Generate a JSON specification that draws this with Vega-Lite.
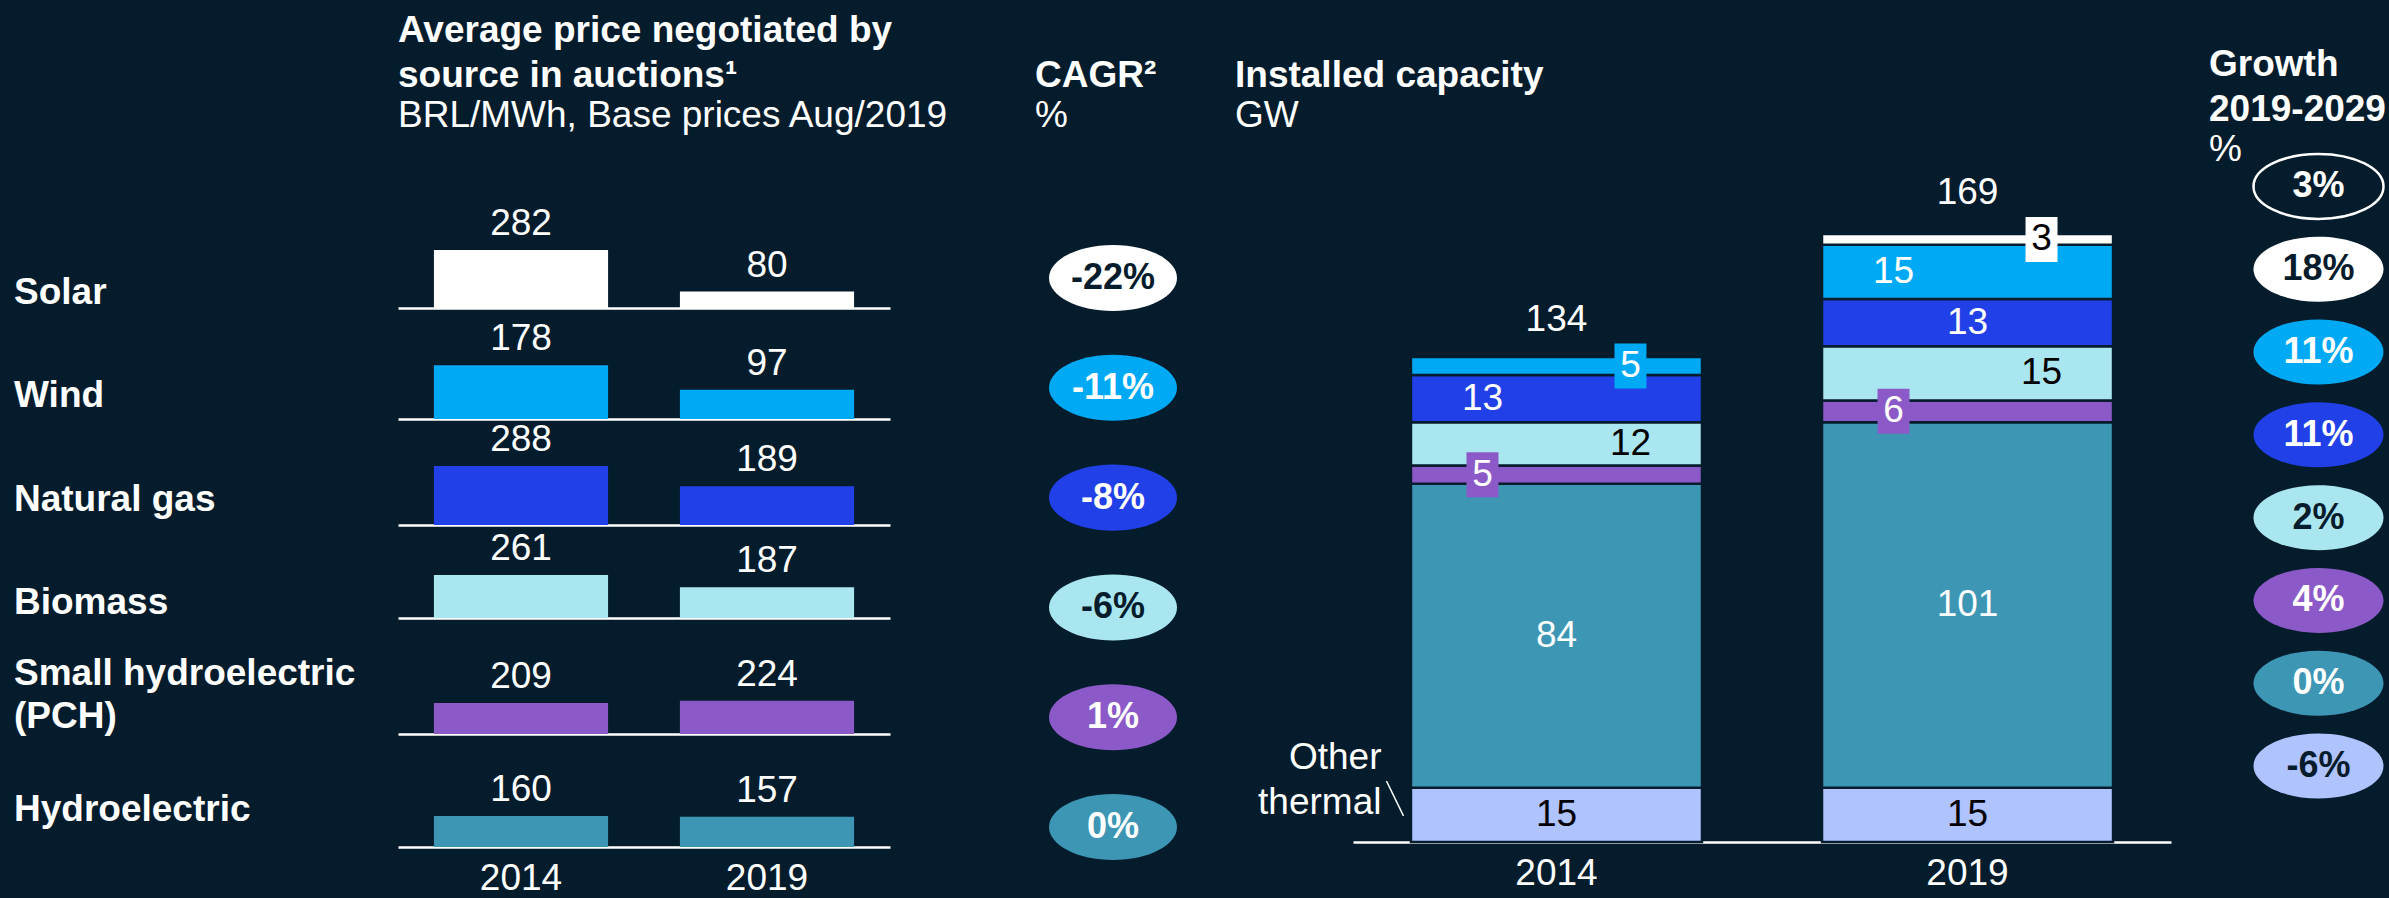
{
  "$schema": "https://vega.github.io/schema/vega-lite/v6.json",
  "background": "#051C2C",
  "padding": {"left": 14, "top": 12, "right": 0, "bottom": 2},
  "bounds": "full",
  "spacing": 0,
  "resolve": {"scale": {"x": "independent", "y": "independent"}},
  "config": {
    "font": "Liberation Sans",
    "view": {"stroke": null},
    "locale": {"number": {"decimal": ".", "thousands": ",", "grouping": [3], "currency": ["$", ""], "minus": "-"}},
    "title": {"color": "white", "font": "Liberation Sans", "fontSize": 37, "fontWeight": "bold", "anchor": "start", "frame": "group", "lineHeight": 45, "subtitleColor": "white", "subtitleFont": "Liberation Sans", "subtitleFontSize": 37, "subtitleFontWeight": "normal", "subtitleLineHeight": 45, "subtitlePadding": 0},
    "axis": {"grid": false, "labelFont": "Liberation Sans"}
  },
  "datasets": {
    "prices": [
      {"source": "Solar", "year": "2014", "price": 282}, {"source": "Solar", "year": "2019", "price": 80},
      {"source": "Wind", "year": "2014", "price": 178}, {"source": "Wind", "year": "2019", "price": 97},
      {"source": "Natural gas", "year": "2014", "price": 288}, {"source": "Natural gas", "year": "2019", "price": 189},
      {"source": "Biomass", "year": "2014", "price": 261}, {"source": "Biomass", "year": "2019", "price": 187},
      {"source": "Small hydroelectric\n(PCH)", "year": "2014", "price": 209}, {"source": "Small hydroelectric\n(PCH)", "year": "2019", "price": 224},
      {"source": "Hydroelectric", "year": "2014", "price": 160}, {"source": "Hydroelectric", "year": "2019", "price": 157}
    ],
    "cagr": [
      {"source": "Solar", "cagr": -0.22},
      {"source": "Wind", "cagr": -0.11},
      {"source": "Natural gas", "cagr": -0.08},
      {"source": "Biomass", "cagr": -0.06},
      {"source": "Small hydroelectric\n(PCH)", "cagr": 0.01},
      {"source": "Hydroelectric", "cagr": 0.0}
    ],
    "capacity": [
      {"year": "2014", "source": "Other thermal", "gw": 15},
      {"year": "2014", "source": "Hydroelectric", "gw": 84},
      {"year": "2014", "source": "Small hydroelectric\n(PCH)", "gw": 5},
      {"year": "2014", "source": "Biomass", "gw": 12},
      {"year": "2014", "source": "Natural gas", "gw": 13},
      {"year": "2014", "source": "Wind", "gw": 5},
      {"year": "2019", "source": "Other thermal", "gw": 15},
      {"year": "2019", "source": "Hydroelectric", "gw": 101},
      {"year": "2019", "source": "Small hydroelectric\n(PCH)", "gw": 6},
      {"year": "2019", "source": "Biomass", "gw": 15},
      {"year": "2019", "source": "Natural gas", "gw": 13},
      {"year": "2019", "source": "Wind", "gw": 15},
      {"year": "2019", "source": "Solar", "gw": 3}
    ],
    "totals": [
      {"year": "2014", "total": 134},
      {"year": "2019", "total": 169}
    ],
    "growth": [
      {"source": "Total", "growth": 0.03},
      {"source": "Solar", "growth": 0.18},
      {"source": "Wind", "growth": 0.11},
      {"source": "Natural gas", "growth": 0.11},
      {"source": "Biomass", "growth": 0.02},
      {"source": "Small hydroelectric\n(PCH)", "growth": 0.04},
      {"source": "Hydroelectric", "growth": 0.0},
      {"source": "Other thermal", "growth": -0.06}
    ]
  },
  "hconcat": [
    {
      "width": 384, "height": 676,
      "data": {"name": "cagr"},
      "encoding": {
        "x": {"datum": 0, "type": "quantitative", "scale": {"domain": [0, 1]}, "axis": null},
        "y": {"field": "source", "type": "nominal", "scale": {"type": "point", "domain": ["Solar", "Wind", "Natural gas", "Biomass", "Small hydroelectric\n(PCH)", "Hydroelectric"], "padding": 0.769, "align": 0.767}, "axis": null},
        "text": {"field": "source", "type": "nominal"}
      },
      "layer": [
        {
          "transform": [{"filter": "!test(/PCH/, datum.source)"}],
          "mark": {"type": "text", "align": "left", "baseline": "middle", "fontSize": 37, "fontWeight": "bold", "color": "white", "lineBreak": "\n", "lineHeight": 43}
        },
        {
          "transform": [{"filter": "test(/PCH/, datum.source)"}],
          "mark": {"type": "text", "align": "left", "baseline": "middle", "fontSize": 37, "fontWeight": "bold", "color": "white", "lineBreak": "\n", "lineHeight": 43, "dy": -33}
        }
      ]
    },
    {
      "title": {"text": ["Average price negotiated by", "source in auctions¹"], "subtitle": "BRL/MWh, Base prices Aug/2019", "offset": 36},
      "spacing": 0,
      "bounds": "flush",
      "resolve": {"scale": {"x": "independent", "y": "independent"}},
      "vconcat": [
        {
          "width": 492, "height": 137,
          "data": {"name": "prices"},
          "transform": [{"filter": "datum.source === 'Solar'"}],
          "encoding": {
            "x": {"field": "year", "type": "nominal", "scale": {"paddingInner": 0.292, "paddingOuter": 0.146}, "axis": {"labels": false, "ticks": false, "title": null, "domainColor": "white", "domainWidth": 2.5}},
            "y": {"field": "price", "type": "quantitative", "scale": {"domain": [0, 665]}, "axis": null}
          },
          "layer": [
            {"mark": {"type": "bar"}, "encoding": {"color": {"field": "source", "type": "nominal", "legend": null, "scale": {"domain": ["Solar", "Wind", "Natural gas", "Biomass", "Small hydroelectric\n(PCH)", "Hydroelectric", "Other thermal", "Total"], "range": ["#FFFFFF", "#00A9F4", "#2140E8", "#AAE6F0", "#8C5AC8", "#3C96B4", "#AFC3FF", "#051C2C"]}}}},
            {"mark": {"type": "text", "dy": -26, "fontSize": 37, "color": "white", "baseline": "middle"}, "encoding": {"text": {"field": "price", "type": "quantitative"}}}
          ]
        },
        {
          "width": 492, "height": 111,
          "data": {"name": "prices"},
          "transform": [{"filter": "datum.source === 'Wind'"}],
          "encoding": {
            "x": {"field": "year", "type": "nominal", "scale": {"paddingInner": 0.292, "paddingOuter": 0.146}, "axis": {"labels": false, "ticks": false, "title": null, "domainColor": "white", "domainWidth": 2.5}},
            "y": {"field": "price", "type": "quantitative", "scale": {"domain": [0, 368]}, "axis": null}
          },
          "layer": [
            {"mark": {"type": "bar"}, "encoding": {"color": {"field": "source", "type": "nominal", "legend": null, "scale": {"domain": ["Solar", "Wind", "Natural gas", "Biomass", "Small hydroelectric\n(PCH)", "Hydroelectric", "Other thermal", "Total"], "range": ["#FFFFFF", "#00A9F4", "#2140E8", "#AAE6F0", "#8C5AC8", "#3C96B4", "#AFC3FF", "#051C2C"]}}}},
            {"mark": {"type": "text", "dy": -26, "fontSize": 37, "color": "white", "baseline": "middle"}, "encoding": {"text": {"field": "price", "type": "quantitative"}}}
          ]
        },
        {
          "width": 492, "height": 106,
          "data": {"name": "prices"},
          "transform": [{"filter": "datum.source === 'Natural gas'"}],
          "encoding": {
            "x": {"field": "year", "type": "nominal", "scale": {"paddingInner": 0.292, "paddingOuter": 0.146}, "axis": {"labels": false, "ticks": false, "title": null, "domainColor": "white", "domainWidth": 2.5}},
            "y": {"field": "price", "type": "quantitative", "scale": {"domain": [0, 517]}, "axis": null}
          },
          "layer": [
            {"mark": {"type": "bar"}, "encoding": {"color": {"field": "source", "type": "nominal", "legend": null, "scale": {"domain": ["Solar", "Wind", "Natural gas", "Biomass", "Small hydroelectric\n(PCH)", "Hydroelectric", "Other thermal", "Total"], "range": ["#FFFFFF", "#00A9F4", "#2140E8", "#AAE6F0", "#8C5AC8", "#3C96B4", "#AFC3FF", "#051C2C"]}}}},
            {"mark": {"type": "text", "dy": -26, "fontSize": 37, "color": "white", "baseline": "middle"}, "encoding": {"text": {"field": "price", "type": "quantitative"}}}
          ]
        },
        {
          "width": 492, "height": 93,
          "data": {"name": "prices"},
          "transform": [{"filter": "datum.source === 'Biomass'"}],
          "encoding": {
            "x": {"field": "year", "type": "nominal", "scale": {"paddingInner": 0.292, "paddingOuter": 0.146}, "axis": {"labels": false, "ticks": false, "title": null, "domainColor": "white", "domainWidth": 2.5}},
            "y": {"field": "price", "type": "quantitative", "scale": {"domain": [0, 564]}, "axis": null}
          },
          "layer": [
            {"mark": {"type": "bar"}, "encoding": {"color": {"field": "source", "type": "nominal", "legend": null, "scale": {"domain": ["Solar", "Wind", "Natural gas", "Biomass", "Small hydroelectric\n(PCH)", "Hydroelectric", "Other thermal", "Total"], "range": ["#FFFFFF", "#00A9F4", "#2140E8", "#AAE6F0", "#8C5AC8", "#3C96B4", "#AFC3FF", "#051C2C"]}}}},
            {"mark": {"type": "text", "dy": -26, "fontSize": 37, "color": "white", "baseline": "middle"}, "encoding": {"text": {"field": "price", "type": "quantitative"}}}
          ]
        },
        {
          "width": 492, "height": 116,
          "data": {"name": "prices"},
          "transform": [{"filter": "test(/PCH/, datum.source)"}],
          "encoding": {
            "x": {"field": "year", "type": "nominal", "scale": {"paddingInner": 0.292, "paddingOuter": 0.146}, "axis": {"labels": false, "ticks": false, "title": null, "domainColor": "white", "domainWidth": 2.5}},
            "y": {"field": "price", "type": "quantitative", "scale": {"domain": [0, 784]}, "axis": null}
          },
          "layer": [
            {"mark": {"type": "bar"}, "encoding": {"color": {"field": "source", "type": "nominal", "legend": null, "scale": {"domain": ["Solar", "Wind", "Natural gas", "Biomass", "Small hydroelectric\n(PCH)", "Hydroelectric", "Other thermal", "Total"], "range": ["#FFFFFF", "#00A9F4", "#2140E8", "#AAE6F0", "#8C5AC8", "#3C96B4", "#AFC3FF", "#051C2C"]}}}},
            {"mark": {"type": "text", "dy": -26, "fontSize": 37, "color": "white", "baseline": "middle"}, "encoding": {"text": {"field": "price", "type": "quantitative"}}}
          ]
        },
        {
          "width": 492, "height": 113,
          "data": {"name": "prices"},
          "transform": [{"filter": "datum.source === 'Hydroelectric'"}],
          "encoding": {
            "x": {"field": "year", "type": "nominal", "scale": {"paddingInner": 0.292, "paddingOuter": 0.146}, "axis": {"labels": true, "labelAngle": 0, "labelFontSize": 37, "labelColor": "white", "labelPadding": 13, "ticks": false, "title": null, "domainColor": "white", "domainWidth": 2.5}},
            "y": {"field": "price", "type": "quantitative", "scale": {"domain": [0, 585]}, "axis": null}
          },
          "layer": [
            {"mark": {"type": "bar"}, "encoding": {"color": {"field": "source", "type": "nominal", "legend": null, "scale": {"domain": ["Solar", "Wind", "Natural gas", "Biomass", "Small hydroelectric\n(PCH)", "Hydroelectric", "Other thermal", "Total"], "range": ["#FFFFFF", "#00A9F4", "#2140E8", "#AAE6F0", "#8C5AC8", "#3C96B4", "#AFC3FF", "#051C2C"]}}}},
            {"mark": {"type": "text", "dy": -26, "fontSize": 37, "color": "white", "baseline": "middle"}, "encoding": {"text": {"field": "price", "type": "quantitative"}}}
          ]
        }
      ]
    },
    {
      "width": 285, "height": 676,
      "title": {"text": "CAGR²", "subtitle": "%", "offset": 36, "dx": 85},
      "data": {"name": "cagr"},
      "encoding": {
        "y": {"field": "source", "type": "nominal", "sort": null, "scale": {"type": "point", "padding": 0.578, "align": 0.843}, "axis": null}
      },
      "layer": [
        {"mark": {"type": "point", "shape": "M -1 0 A 1 0.516 0 1 1 1 0 A 1 0.516 0 1 1 -1 0 Z", "size": 16384, "filled": true, "opacity": 1, "xOffset": 20.5},
         "encoding": {"color": {"field": "source", "type": "nominal", "legend": null, "scale": {"domain": ["Solar", "Wind", "Natural gas", "Biomass", "Small hydroelectric\n(PCH)", "Hydroelectric", "Other thermal", "Total"], "range": ["#FFFFFF", "#00A9F4", "#2140E8", "#AAE6F0", "#8C5AC8", "#3C96B4", "#AFC3FF", "#051C2C"]}}}},
        {"mark": {"type": "text", "dx": 20.5, "fontSize": 36, "fontWeight": "bold", "baseline": "middle"},
         "encoding": {
           "text": {"field": "cagr", "type": "quantitative", "format": ".0%"},
           "color": {"condition": {"test": "datum.source === 'Solar' || datum.source === 'Biomass'", "value": "#051C2C"}, "value": "white"}
         }}
      ]
    },
    {
      "width": 818, "height": 671,
      "title": {"text": "Installed capacity", "subtitle": "GW", "offset": 36, "dx": -118},
      "data": {"name": "capacity"},
      "encoding": {
        "x": {"field": "year", "type": "nominal", "scale": {"paddingInner": 0.292, "paddingOuter": 0.141}, "axis": {"labelAngle": 0, "labelFontSize": 37, "labelColor": "white", "labelPadding": 13, "ticks": false, "title": null, "domainColor": "white", "domainWidth": 2.5}}
      },
      "layer": [
        {
          "transform": [{"stack": "gw", "groupby": ["year"], "as": ["y0", "y1"]}],
          "mark": {"type": "bar", "stroke": "#051C2C", "strokeWidth": 2.5},
          "encoding": {
            "y": {"field": "y0", "type": "quantitative", "scale": {"domain": [0, 185.4]}, "axis": null},
            "y2": {"field": "y1"},
            "color": {"field": "source", "type": "nominal", "legend": null, "scale": {"domain": ["Solar", "Wind", "Natural gas", "Biomass", "Small hydroelectric\n(PCH)", "Hydroelectric", "Other thermal", "Total"], "range": ["#FFFFFF", "#00A9F4", "#2140E8", "#AAE6F0", "#8C5AC8", "#3C96B4", "#AFC3FF", "#051C2C"]}}
          }
        },
        {
          "transform": [
            {"stack": "gw", "groupby": ["year"], "as": ["y0", "y1"]},
            {"fold": ["y0", "y1"], "as": ["k", "v"]},
            {"aggregate": [{"op": "mean", "field": "v", "as": "mid"}], "groupby": ["year", "source", "gw"]}
          ],
          "encoding": {
            "y": {"field": "mid", "type": "quantitative", "scale": {"domain": [0, 185.4]}, "axis": null}
          },
          "layer": [
            {
              "transform": [{"filter": "test(/PCH/, datum.source)"}],
              "mark": {"type": "point", "shape": "M -0.711 -1 L 0.711 -1 L 0.711 1 L -0.711 1 Z", "size": 2025, "filled": true, "opacity": 1, "xOffset": -74},
              "encoding": {"color": {"field": "source", "type": "nominal", "legend": null, "scale": {"domain": ["Solar", "Wind", "Natural gas", "Biomass", "Small hydroelectric\n(PCH)", "Hydroelectric", "Other thermal", "Total"], "range": ["#FFFFFF", "#00A9F4", "#2140E8", "#AAE6F0", "#8C5AC8", "#3C96B4", "#AFC3FF", "#051C2C"]}}}
            },
            {
              "transform": [{"filter": "(datum.year === '2014' && datum.source === 'Wind') || datum.source === 'Solar'"}],
              "mark": {"type": "point", "shape": "M -0.711 -1 L 0.711 -1 L 0.711 1 L -0.711 1 Z", "size": 2025, "filled": true, "opacity": 1, "xOffset": 74},
              "encoding": {"color": {"field": "source", "type": "nominal", "legend": null, "scale": {"domain": ["Solar", "Wind", "Natural gas", "Biomass", "Small hydroelectric\n(PCH)", "Hydroelectric", "Other thermal", "Total"], "range": ["#FFFFFF", "#00A9F4", "#2140E8", "#AAE6F0", "#8C5AC8", "#3C96B4", "#AFC3FF", "#051C2C"]}}}
            },
            {
              "transform": [{"filter": "datum.source === 'Other thermal' || datum.source === 'Hydroelectric' || (datum.year === '2019' && datum.source === 'Natural gas')"}],
              "mark": {"type": "text", "fontSize": 37, "baseline": "middle"},
              "encoding": {
                "text": {"field": "gw", "type": "quantitative"},
                "color": {"condition": {"test": "datum.source === 'Other thermal' || datum.source === 'Biomass' || datum.source === 'Solar'", "value": "#000000"}, "value": "white"}
              }
            },
            {
              "transform": [{"filter": "test(/PCH/, datum.source) || (datum.year === '2014' && datum.source === 'Natural gas') || (datum.year === '2019' && datum.source === 'Wind')"}],
              "mark": {"type": "text", "fontSize": 37, "baseline": "middle", "dx": -74},
              "encoding": {
                "text": {"field": "gw", "type": "quantitative"},
                "color": {"condition": {"test": "datum.source === 'Other thermal' || datum.source === 'Biomass' || datum.source === 'Solar'", "value": "#000000"}, "value": "white"}
              }
            },
            {
              "transform": [{"filter": "datum.source === 'Biomass' || (datum.year === '2014' && datum.source === 'Wind') || datum.source === 'Solar'"}],
              "mark": {"type": "text", "fontSize": 37, "baseline": "middle", "dx": 74},
              "encoding": {
                "text": {"field": "gw", "type": "quantitative"},
                "color": {"condition": {"test": "datum.source === 'Other thermal' || datum.source === 'Biomass' || datum.source === 'Solar'", "value": "#000000"}, "value": "white"}
              }
            }
          ]
        },
        {
          "transform": [
            {"stack": "gw", "groupby": ["year"], "as": ["y0", "y1"]},
            {"filter": "datum.year === '2014' && datum.source === 'Other thermal'"}
          ],
          "mark": {"type": "text", "fontSize": 37, "align": "right", "baseline": "middle", "dx": -175, "dy": -30, "lineBreak": " ", "lineHeight": 45, "color": "white"},
          "encoding": {
            "y": {"field": "y1", "type": "quantitative", "scale": {"domain": [0, 185.4]}, "axis": null},
            "text": {"field": "source", "type": "nominal"}
          }
        },
        {
          "transform": [{"filter": "datum.year === '2014' && datum.source === 'Other thermal'"}],
          "mark": {"type": "rule", "color": "white", "strokeWidth": 1.5, "xOffset": -170, "x2Offset": -153},
          "encoding": {
            "x2": {"field": "year"},
            "y": {"datum": 16.85, "type": "quantitative", "scale": {"domain": [0, 185.4]}, "axis": null},
            "y2": {"datum": 7.2}
          }
        },
        {
          "data": {"name": "totals"},
          "mark": {"type": "text", "fontSize": 37, "baseline": "middle", "dy": -37, "color": "white"},
          "encoding": {
            "y": {"field": "total", "type": "quantitative", "scale": {"domain": [0, 185.4]}, "axis": null},
            "text": {"field": "total", "type": "quantitative"}
          }
        }
      ]
    },
    {
      "width": 219, "height": 676,
      "title": {"text": ["Growth", "2019-2029"], "subtitle": "%", "offset": -20, "dx": 38},
      "data": {"name": "growth"},
      "encoding": {
        "y": {"field": "source", "type": "nominal", "sort": null, "scale": {"type": "point", "padding": 0.582, "align": 0.16}, "axis": null}
      },
      "layer": [
        {"mark": {"type": "point", "shape": "M -1 0 A 1 0.5 0 1 1 1 0 A 1 0.5 0 1 1 -1 0 Z", "size": 16900, "filled": true, "opacity": 1, "xOffset": 38, "strokeWidth": 2.5},
         "encoding": {
           "color": {"field": "source", "type": "nominal", "legend": null, "scale": {"domain": ["Solar", "Wind", "Natural gas", "Biomass", "Small hydroelectric\n(PCH)", "Hydroelectric", "Other thermal", "Total"], "range": ["#FFFFFF", "#00A9F4", "#2140E8", "#AAE6F0", "#8C5AC8", "#3C96B4", "#AFC3FF", "#051C2C"]}},
           "stroke": {"condition": {"test": "datum.source === 'Total'", "value": "white"}, "value": "transparent"}
         }},
        {"mark": {"type": "text", "dx": 38, "fontSize": 36, "fontWeight": "bold", "baseline": "middle"},
         "encoding": {
           "text": {"field": "growth", "type": "quantitative", "format": ".0%"},
           "color": {"condition": {"test": "datum.source === 'Solar' || datum.source === 'Biomass' || datum.source === 'Other thermal'", "value": "#051C2C"}, "value": "white"}
         }}
      ]
    }
  ]
}
